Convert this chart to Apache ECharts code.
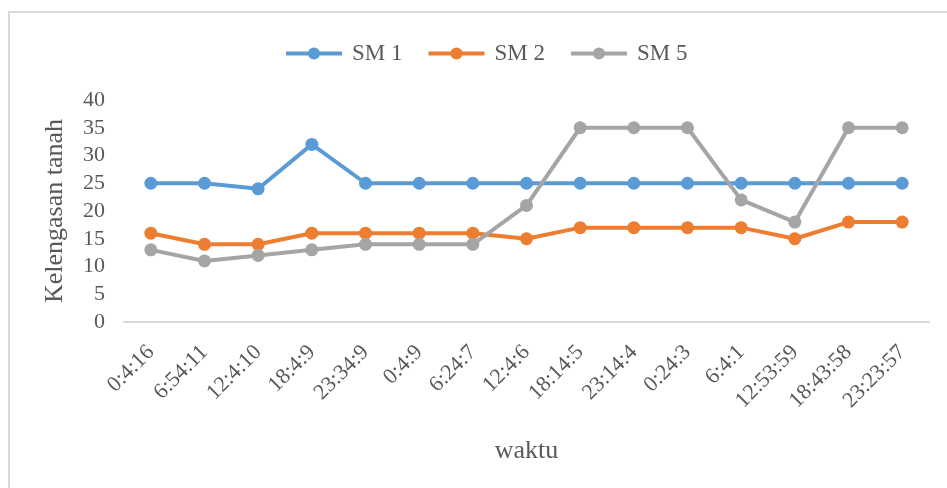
<!DOCTYPE html>
<html>
<head>
<meta charset="utf-8">
<script src="https://cdn.jsdelivr.net/npm/echarts@6/dist/echarts.min.js"></script>
<style>
  html, body { margin: 0; padding: 0; background: #fff; overflow: hidden; }
  #frame { position: absolute; left: 8px; top: 11px; width: 980px; height: 520px; border: 2px solid #d9d9d9; }
  #chart { position: absolute; left: 0; top: 0; width: 947px; height: 488px; }
</style>
</head>
<body>
<div id="frame"></div>
<div id="chart"></div>
<script>
const waktu = ["0:4:16", "6:54:11", "12:4:10", "18:4:9", "23:34:9", "0:4:9", "6:24:7", "12:4:6",
  "18:14:5", "23:14:4", "0:24:3", "6:4:1", "12:53:59", "18:43:58", "23:23:57"];
const sm1 = [25, 25, 24, 32, 25, 25, 25, 25, 25, 25, 25, 25, 25, 25, 25];
const sm2 = [16, 14, 14, 16, 16, 16, 16, 15, 17, 17, 17, 17, 15, 18, 18];
const sm5 = [13, 11, 12, 13, 14, 14, 14, 21, 35, 35, 35, 22, 18, 35, 35];

const font = "Liberation Serif";
const chart = echarts.init(document.getElementById("chart"));

function line(name, data, color) {
  return {
    name: name,
    type: "line",
    data: data,
    symbol: "circle",
    symbolSize: 13,
    lineStyle: { width: 4, color: color },
    itemStyle: { color: color },
    emphasis: { disabled: true }
  };
}

chart.setOption({
  animation: false,
  textStyle: { fontFamily: font },
  legend: {
    top: 37,
    left: 279,
    itemWidth: 56,
    itemHeight: 15,
    itemGap: 24,
    lineStyle: { width: 4 },
    textStyle: { fontFamily: font, fontSize: 23, color: "#595959", padding: [0, 0, 0, 5] },
    data: ["SM 1", "SM 2", "SM 5"]
  },
  grid: { left: 124, right: 18, top: 100, bottom: 166 },
  xAxis: {
    type: "category",
    data: waktu,
    name: "waktu",
    nameLocation: "middle",
    nameGap: 116,
    nameTextStyle: { fontFamily: font, fontSize: 26, color: "#595959" },
    axisLine: { lineStyle: { color: "#d9d9d9", width: 2 } },
    axisTick: { show: false },
    axisLabel: { rotate: 45, fontFamily: font, fontSize: 22, color: "#595959", margin: 27 }
  },
  yAxis: {
    type: "value",
    min: 0,
    max: 40,
    interval: 5,
    name: "Kelengasan tanah",
    nameLocation: "middle",
    nameGap: 56,
    nameTextStyle: { fontFamily: font, fontSize: 26, color: "#595959" },
    axisLine: { show: false },
    axisTick: { show: false },
    splitLine: { show: false },
    axisLabel: { fontFamily: font, fontSize: 22, color: "#595959", margin: 19 }
  },
  series: [
    line("SM 1", sm1, "#5b9bd5"),
    line("SM 2", sm2, "#ed7d31"),
    line("SM 5", sm5, "#a5a5a5")
  ]
});
</script>
</body>
</html>
